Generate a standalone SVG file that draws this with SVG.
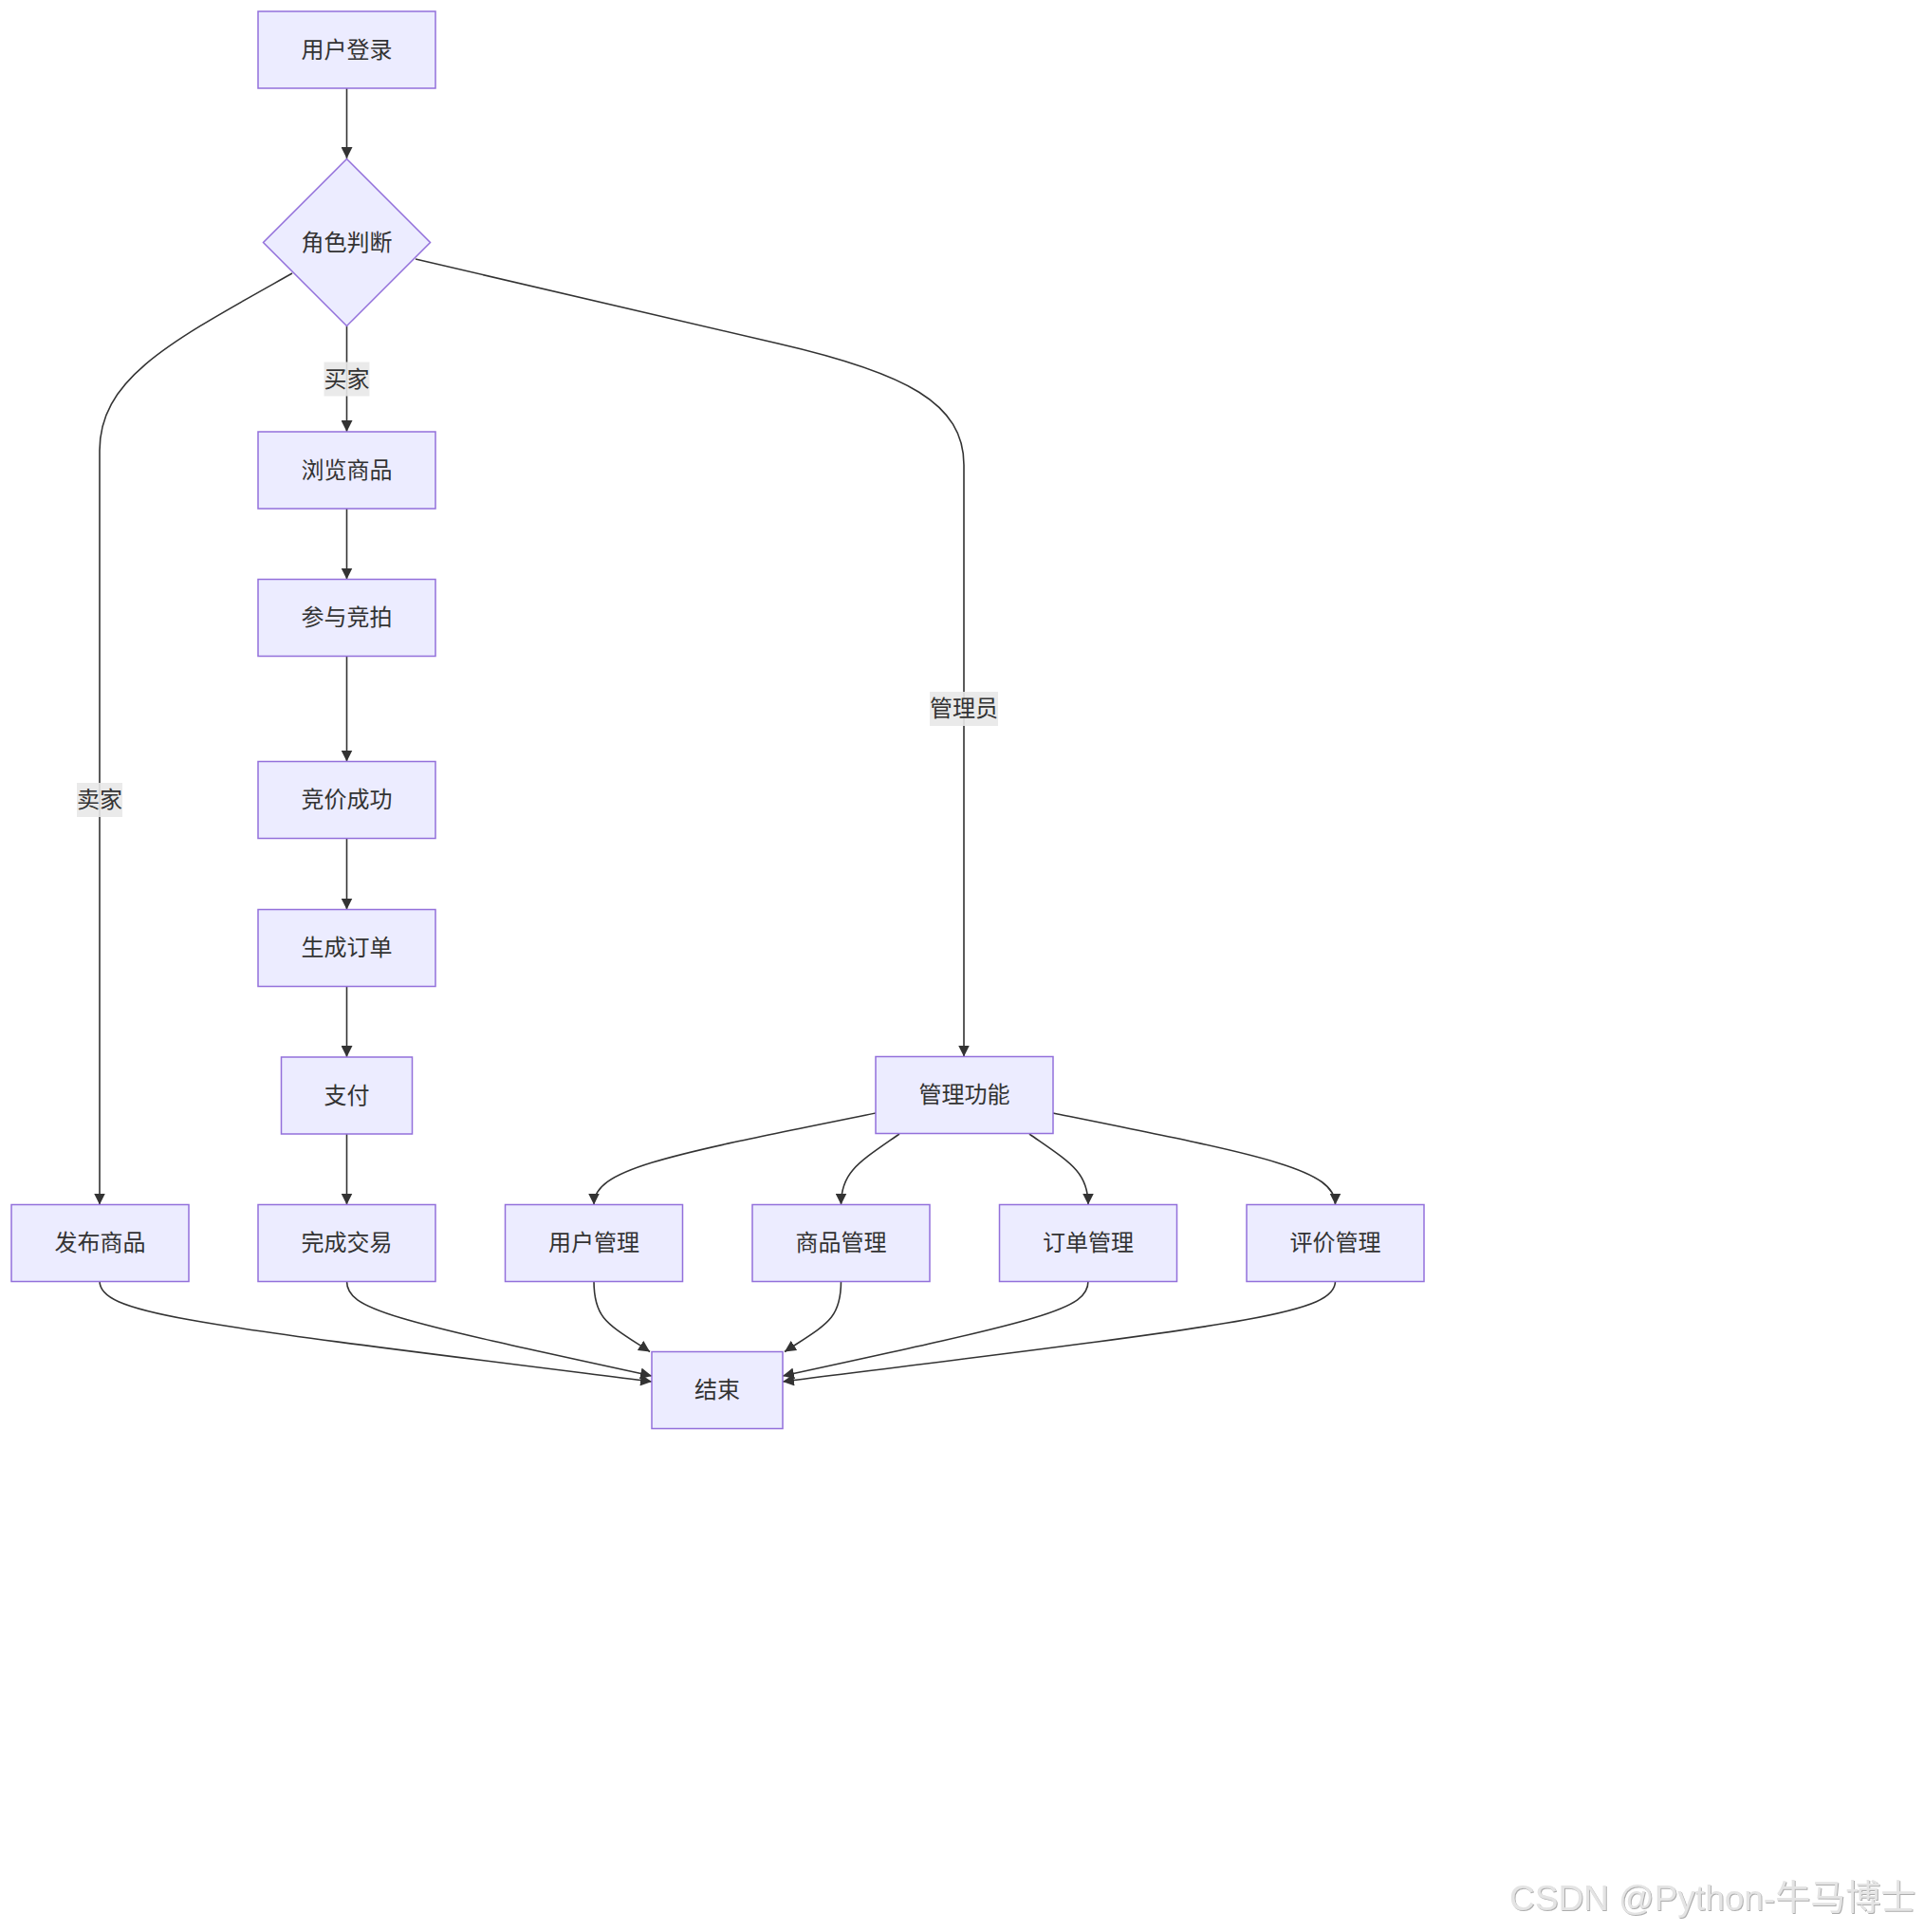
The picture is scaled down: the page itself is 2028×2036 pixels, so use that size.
<svg xmlns="http://www.w3.org/2000/svg" width="2028" height="2036" viewBox="0 0 2028 2036">
<style>
.node rect,.node polygon{fill:#ECECFF;stroke:#9370DB;stroke-width:1.5}
.node text,.lbl text{font-family:"Noto Sans CJK SC","Noto Sans",sans-serif;font-size:24px;fill:#333;text-anchor:middle;dominant-baseline:central}
.edges path{fill:none;stroke:#333;stroke-width:1.6}
.lbl rect{fill:#e8e8e8;fill-opacity:0.9}
.wm{font-family:"Liberation Sans","Noto Sans CJK SC",sans-serif;font-size:37px;fill:#e4e4e4}
</style>
<defs>
<marker id="arr" viewBox="0 0 10 10" refX="10" refY="5" markerWidth="12" markerHeight="12" markerUnits="userSpaceOnUse" orient="auto">
<path d="M0,0 L10,5 L0,10 z" fill="#333"/>
</marker>
<filter id="sh" x="-5%" y="-20%" width="110%" height="140%">
<feDropShadow dx="1" dy="1" stdDeviation="0.6" flood-color="#999" flood-opacity="0.8"/>
</filter>
</defs>
<rect width="2028" height="2036" fill="#fff"/>
<g class="edges" marker-end="url(#arr)">
<path d="M365.5,93 L365.5,167"/>
<path d="M365.5,343.5 L365.5,455"/>
<path d="M308,288 C180,360 105,398 105,475 L105,1269.5"/>
<path d="M438,273 L820,362 C955,393 1016,425 1016,490 L1016,1113.5"/>
<path d="M365.5,536 L365.5,610.5"/>
<path d="M365.5,691.5 L365.5,802.5"/>
<path d="M365.5,883.5 L365.5,958.5"/>
<path d="M365.5,1039.5 L365.5,1114"/>
<path d="M365.5,1195 L365.5,1269.5"/>
<path d="M923,1173 C700,1218 626,1232 626,1269.5"/>
<path d="M948,1195 C905,1225 886.5,1235 886.5,1269.5"/>
<path d="M1085,1195 C1128,1225 1147,1235 1147,1269.5"/>
<path d="M1110,1173 C1333,1218 1407.5,1232 1407.5,1269.5"/>
<path d="M105,1350 C105,1385 200,1395 687,1456"/>
<path d="M365.5,1350 C365.5,1380 410,1390 687,1450"/>
<path d="M626,1350 C626,1390 640,1395 685,1424.5"/>
<path d="M886.5,1350 C886.5,1390 872,1395 827,1424.5"/>
<path d="M1147,1350 C1147,1380 1102,1390 825,1450"/>
<path d="M1407.5,1350 C1407.5,1385 1312,1395 825,1456"/>
</g>
<g class="lbl" id="label-buyer"><rect x="341.5" y="381.5" width="48" height="36"/><text x="365.5" y="397">买家</text></g>
<g class="lbl" id="label-seller"><rect x="81" y="825" width="48" height="36"/><text x="105" y="840.5">卖家</text></g>
<g class="lbl" id="label-admin"><rect x="980" y="729" width="72" height="36"/><text x="1016" y="744.5">管理员</text></g>
<g class="node" id="n-login"><rect x="272" y="12" width="187" height="81"/><text x="365.5" y="50">用户登录</text></g>
<g class="node" id="n-role"><polygon points="365.5,167.5 453.5,255.5 365.5,343.5 277.5,255.5"/><text x="365.5" y="253">角色判断</text></g>
<g class="node" id="n-browse"><rect x="272" y="455" width="187" height="81"/><text x="365.5" y="493">浏览商品</text></g>
<g class="node" id="n-bid"><rect x="272" y="610.5" width="187" height="81"/><text x="365.5" y="648.5">参与竞拍</text></g>
<g class="node" id="n-win"><rect x="272" y="802.5" width="187" height="81"/><text x="365.5" y="840.5">竞价成功</text></g>
<g class="node" id="n-order"><rect x="272" y="958.5" width="187" height="81"/><text x="365.5" y="996.5">生成订单</text></g>
<g class="node" id="n-pay"><rect x="296.5" y="1114" width="138" height="81"/><text x="365.5" y="1152">支付</text></g>
<g class="node" id="n-admin"><rect x="923" y="1113.5" width="187" height="81"/><text x="1016.5" y="1151.5">管理功能</text></g>
<g class="node" id="n-publish"><rect x="12" y="1269.5" width="187" height="81"/><text x="105.5" y="1307.5">发布商品</text></g>
<g class="node" id="n-done"><rect x="272" y="1269.5" width="187" height="81"/><text x="365.5" y="1307.5">完成交易</text></g>
<g class="node" id="n-user"><rect x="532.5" y="1269.5" width="187" height="81"/><text x="626" y="1307.5">用户管理</text></g>
<g class="node" id="n-goods"><rect x="793" y="1269.5" width="187" height="81"/><text x="886.5" y="1307.5">商品管理</text></g>
<g class="node" id="n-orders"><rect x="1053.5" y="1269.5" width="187" height="81"/><text x="1147" y="1307.5">订单管理</text></g>
<g class="node" id="n-review"><rect x="1314" y="1269.5" width="187" height="81"/><text x="1407.5" y="1307.5">评价管理</text></g>
<g class="node" id="n-end"><rect x="687" y="1424.5" width="138" height="81"/><text x="756" y="1462.5">结束</text></g>
<text class="wm" x="1591" y="2013" filter="url(#sh)">CSDN @Python-牛马博士</text>
</svg>
